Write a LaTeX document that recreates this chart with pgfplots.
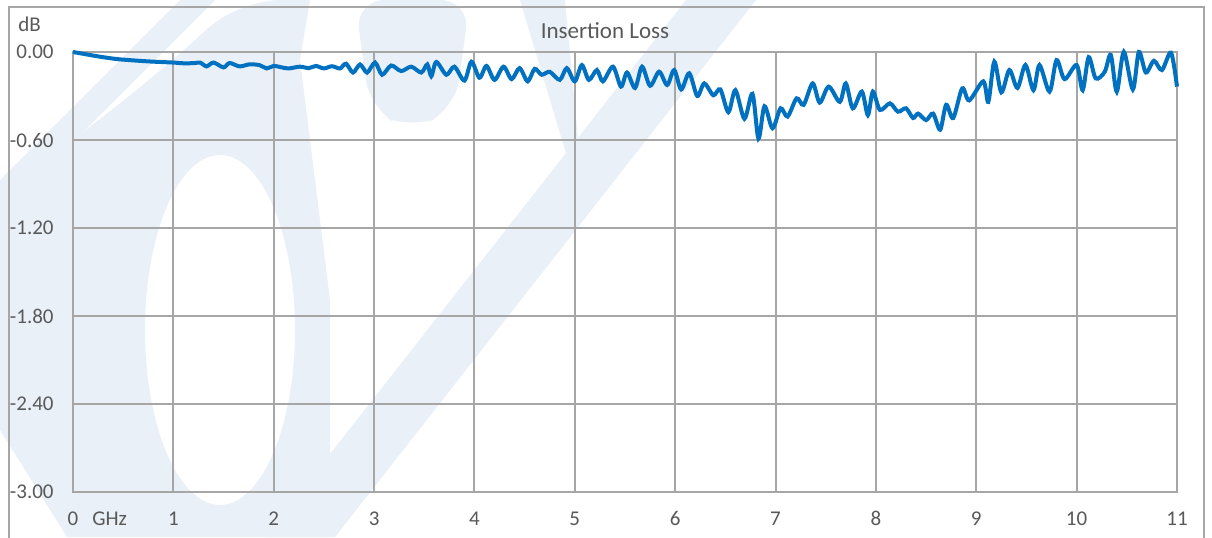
\documentclass[border=0pt]{standalone}
\usepackage{fontspec}
\setmainfont{Carlito}
\usepackage{pgfplots}
\pgfplotsset{compat=1.18}
\definecolor{txt}{HTML}{595959}
\definecolor{grd}{HTML}{A6A6A6}
\definecolor{ln}{HTML}{0070C0}
\definecolor{wm}{HTML}{E9F0F8}
\pgfplotstableread{
x y
0 0
0.1 -0.012
0.25 -0.030
0.4 -0.045
0.5 -0.052
0.75 -0.064
1.0 -0.072
1.1 -0.077
1.2 -0.076
1.27 -0.073
1.33 -0.098
1.40 -0.072
1.50 -0.105
1.56 -0.075
1.66 -0.098
1.76 -0.084
1.86 -0.090
1.93 -0.112
2.0 -0.095
2.08 -0.105
2.15 -0.112
2.26 -0.100
2.35 -0.110
2.42 -0.095
2.50 -0.112
2.58 -0.097
2.66 -0.112
2.72 -0.080
2.79 -0.140
2.86 -0.085
2.93 -0.140
3.01 -0.072
3.08 -0.155
3.17 -0.092
3.27 -0.130
3.37 -0.100
3.47 -0.140
3.53 -0.085
3.57 -0.165
3.62 -0.068
3.72 -0.155
3.80 -0.100
3.90 -0.195
3.97 -0.066
4.05 -0.175
4.12 -0.095
4.20 -0.190
4.29 -0.100
4.37 -0.185
4.45 -0.110
4.53 -0.200
4.60 -0.115
4.67 -0.155
4.75 -0.135
4.85 -0.190
4.92 -0.110
5.0 -0.200
5.07 -0.089
5.14 -0.190
5.22 -0.123
5.28 -0.200
5.38 -0.100
5.46 -0.236
5.52 -0.140
5.60 -0.245
5.67 -0.100
5.75 -0.230
5.84 -0.134
5.92 -0.225
5.99 -0.123
6.06 -0.255
6.14 -0.145
6.22 -0.300
6.29 -0.214
6.38 -0.295
6.45 -0.255
6.53 -0.410
6.60 -0.260
6.69 -0.455
6.77 -0.285
6.83 -0.590
6.89 -0.370
6.97 -0.520
7.05 -0.384
7.12 -0.440
7.21 -0.316
7.28 -0.360
7.37 -0.214
7.44 -0.345
7.53 -0.236
7.64 -0.340
7.70 -0.214
7.77 -0.384
7.86 -0.270
7.92 -0.430
7.97 -0.270
8.04 -0.395
8.14 -0.350
8.22 -0.407
8.30 -0.384
8.37 -0.450
8.42 -0.420
8.50 -0.464
8.57 -0.420
8.64 -0.530
8.70 -0.360
8.77 -0.450
8.86 -0.248
8.93 -0.330
9.07 -0.200
9.12 -0.340
9.18 -0.066
9.25 -0.275
9.33 -0.123
9.41 -0.245
9.49 -0.089
9.57 -0.260
9.63 -0.089
9.73 -0.270
9.80 -0.055
9.88 -0.185
10.0 -0.089
10.06 -0.260
10.12 -0.035
10.19 -0.180
10.28 -0.135
10.34 -0.020
10.40 -0.270
10.47 0.0
10.56 -0.255
10.62 0.0
10.69 -0.140
10.77 -0.060
10.85 -0.123
10.94 -0.005
11.0 -0.236
}\ildata
\begin{document}
\begin{tikzpicture}[x=1pt,y=1pt]
\path[use as bounding box] (0,0) rectangle (606,268.5);
\fill[white] (0,0) rectangle (606,268.5);
\begin{scope}
\clip (0,0) rectangle (606,268.5);
% faint background logo (approximate)
\fill[wm] (90,268.5) -- (107.5,268.5) -- (0,161) -- (0,178.5) -- cycle;
\fill[wm, even odd rule] (120,268.5) -- (155,268.5) -- (150,238.5) -- (165,118.5) -- (165,0) -- (33.5,0) -- (0,53.5) -- (0,168.5) [rounded corners=20pt] -- (30,193.5) -- (75,228.5) -- cycle
  (110,103.5) ellipse [x radius=37.5, y radius=87.5];
\fill[wm, rounded corners=15pt] (177.5,268.5) -- (235,268.5) -- (227.5,213.5) -- (205,203.5) -- (185,213.5) -- cycle;
\fill[wm] (260,268.5) -- (282.5,268.5) -- (290,188.5) -- (284,188.5) -- cycle;
\fill[wm] (343,268.5) -- (378,268.5) -- (167.5,0) -- (132.5,0) -- cycle;
\end{scope}
\draw[grd, line width=1pt] (4.5,-5) -- (4.5,265) -- (602,265) -- (602,-5);
\begin{axis}[at={(36.5pt,22.5pt)}, anchor=south west, scale only axis,
  width=552pt, height=220pt,
  xmin=0, xmax=11, ymin=-3, ymax=0,
  xtick={0,1,2,3,4,5,6,7,8,9,10,11},
  xticklabels={0,1,2,3,4,5,6,7,8,9,10,11},
  ytick={-3,-2.4,-1.8,-1.2,-0.6,0},
  yticklabels={-3.00,-2.40,-1.80,-1.20,-0.60,0.00},
  grid=major, grid style={grd, line width=1pt},
  axis line style={grd, line width=1pt},
  major tick length=0pt,
  tick label style={font=\fontsize{10.5}{12}\selectfont, text=txt, inner sep=0pt},
  xticklabel style={anchor=base, yshift=-16.5pt},
  yticklabel style={anchor=east, xshift=-9.5pt},
  clip=false,
]
\addplot[ln, line width=2pt, smooth, tension=0.5] table {\ildata};
\end{axis}
\node[anchor=base, text=txt, font=\fontsize{11.5}{13}\selectfont, inner sep=0pt] at (302.5,249) {Insertion Loss};
\node[anchor=base west, text=txt, font=\fontsize{10.5}{12}\selectfont, inner sep=0pt] at (9,252.5) {dB};
\node[anchor=base west, text=txt, font=\fontsize{10.5}{12}\selectfont, inner sep=0pt] at (46,6) {GHz};
\end{tikzpicture}
\end{document}
